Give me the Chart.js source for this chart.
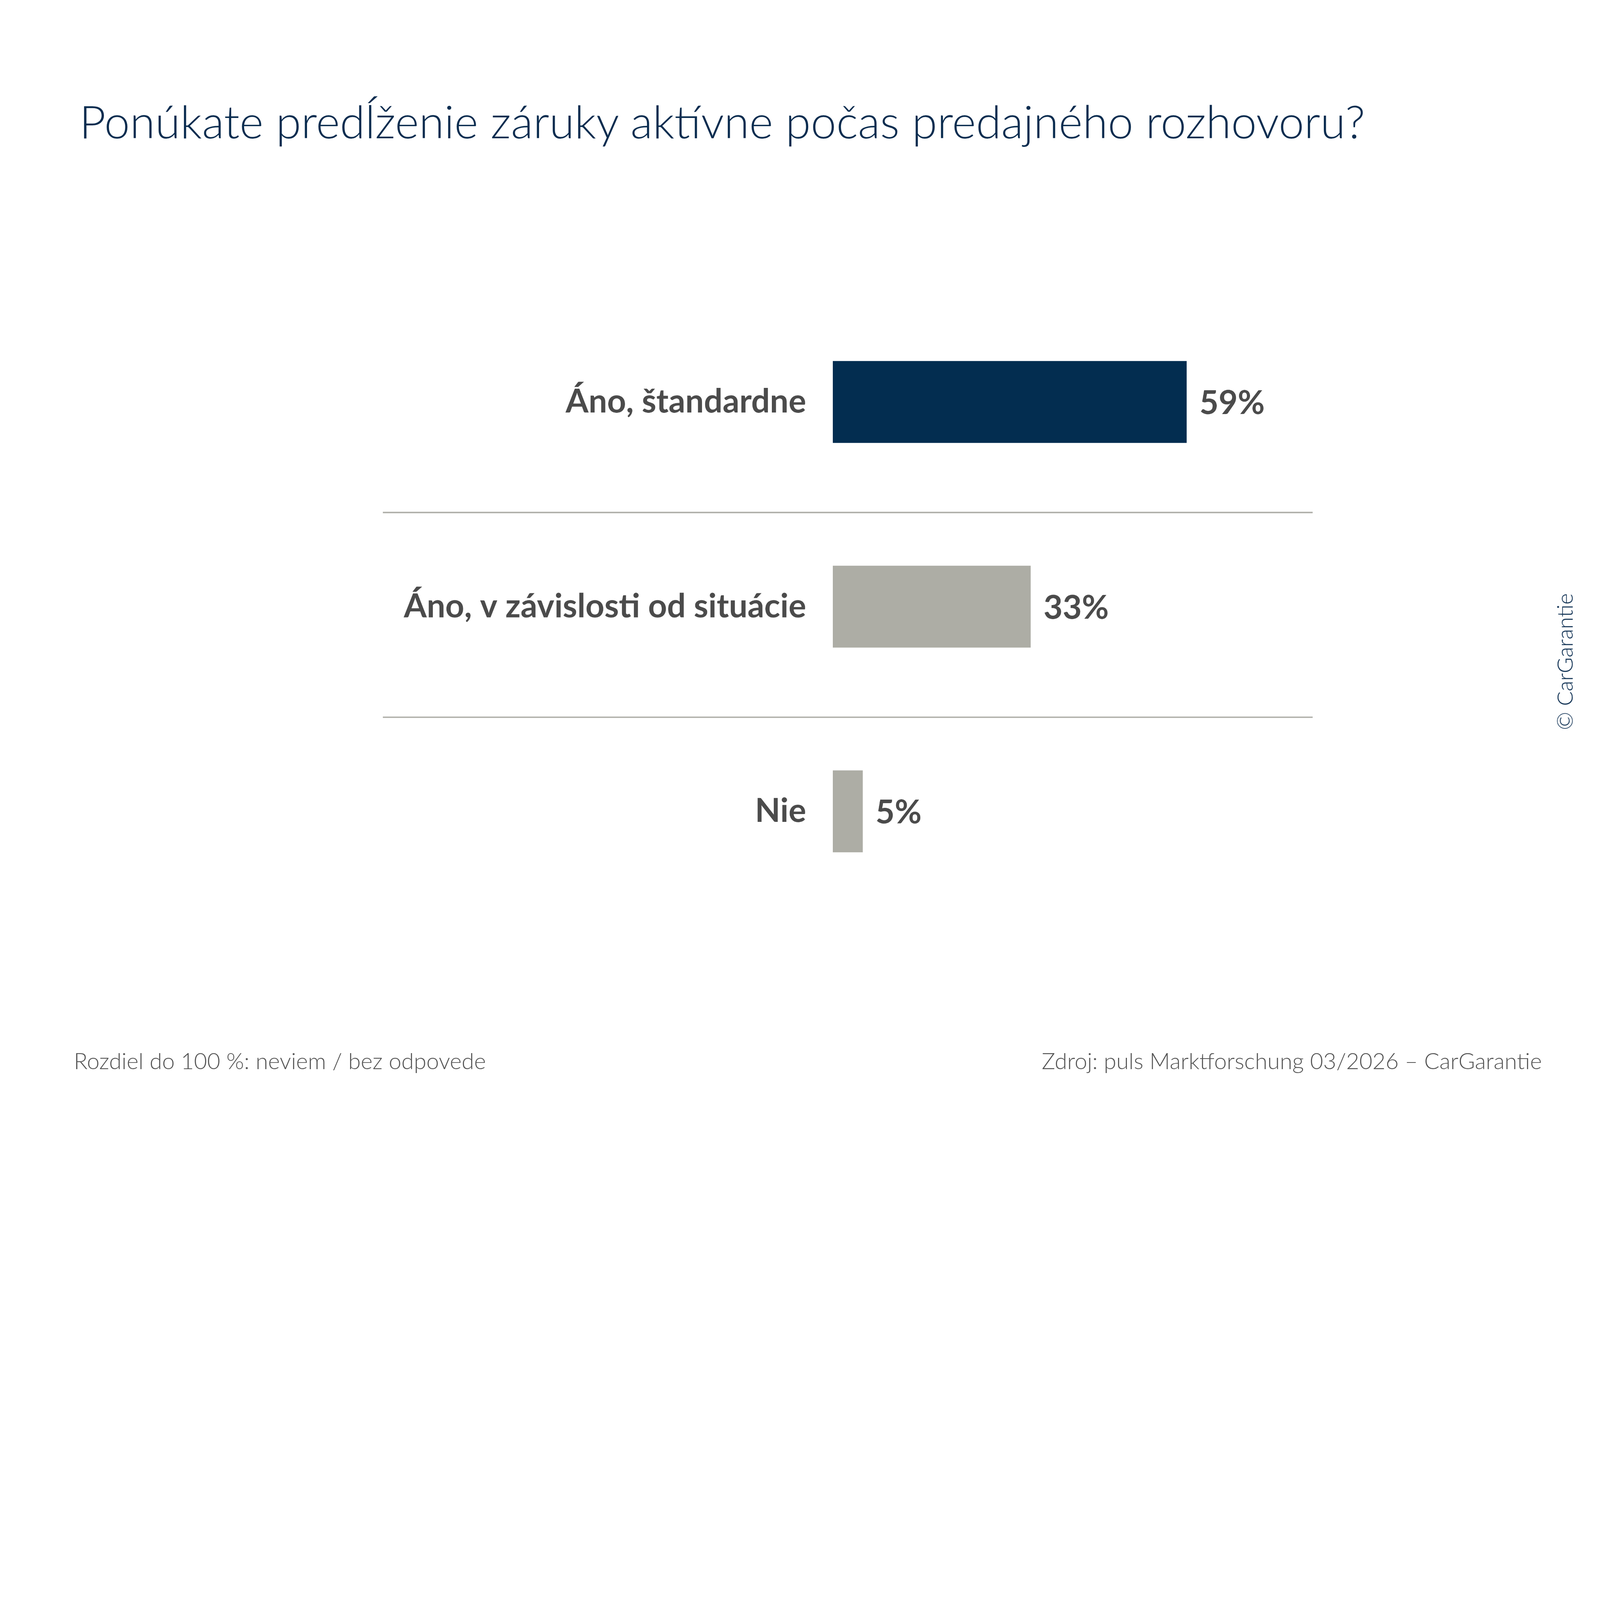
<!DOCTYPE html>
<html>
<head>
<meta charset="utf-8">
<script src="https://cdn.jsdelivr.net/npm/chart.js@4/dist/chart.umd.min.js"></script>
<style>
  html, body { margin: 0; padding: 0; background: #fff; overflow: hidden; }
  #stage { position: absolute; left: 0; top: 0; width: 6500px; height: 4500px; transform-origin: 0 0; background: #fff; }
  #chart { position: absolute; left: 0; top: 0; width: 6500px; height: 4500px; }
  .txt { position: absolute; line-height: 1; white-space: nowrap; font-family: Lato, "Open Sans", sans-serif; }
  #title { left: 322px; top: 397px; font-size: 186px; font-weight: 300; color: #0b2d50; }
  #note { left: 300px; top: 4263px; font-size: 92px; font-weight: 300; color: #555555; }
  #source { right: 236px; top: 4263px; font-size: 92px; font-weight: 300; color: #555555; }
  #credit { left: 6355px; top: 2688px; font-size: 88px; font-weight: 300; color: #0b2d50;
            transform: translate(-50%, -50%) rotate(-90deg); }
</style>
</head>
<body>
<div id="stage">
  <canvas id="chart" width="6500" height="4500"></canvas>
  <div id="title" class="txt">Ponúkate predĺženie záruky aktívne počas predajného rozhovoru?</div>
  <div id="note" class="txt">Rozdiel do 100 %: neviem / bez odpovede</div>
  <div id="source" class="txt">Zdroj: puls Marktforschung 03/2026 – CarGarantie</div>
  <div id="credit" class="txt">© CarGarantie</div>
</div>
<script>
// Data
const categories = ['Áno, štandardne', 'Áno, v závislosti od situácie', 'Nie'];
const shares = [59, 33, 5];
const barColors = ['#032d50', '#adada5', '#adada5'];

const textGray = '#4b4b4b';
const labelFont = { family: 'Lato, "Open Sans", sans-serif', size: 134, weight: 'bold' };

// separator lines between categories, spanning from/to these x values
const sepFrom = -75;
const sepTo = 80;

// fit the 6500x4500 layout into whatever window we get
const stage = document.getElementById('stage');
const fit = Math.min(window.innerWidth / 6500, window.innerHeight / 4500);
stage.style.transform = 'scale(' + fit + ')';

const separators = {
  id: 'separators',
  beforeDatasetsDraw(chart) {
    const { ctx, scales: { x, y } } = chart;
    ctx.save();
    ctx.strokeStyle = '#b3b3ad';
    ctx.lineWidth = 6;
    for (let i = 0; i < categories.length - 1; i++) {
      const py = Math.round(y.getPixelForValue(i + 0.54));
      ctx.beginPath();
      ctx.moveTo(x.getPixelForValue(sepFrom), py);
      ctx.lineTo(x.getPixelForValue(sepTo), py);
      ctx.stroke();
    }
    ctx.restore();
  }
};

const valueLabels = {
  id: 'valueLabels',
  afterDatasetsDraw(chart) {
    const { ctx } = chart;
    const meta = chart.getDatasetMeta(0);
    ctx.save();
    ctx.fillStyle = textGray;
    ctx.font = `${labelFont.weight} ${labelFont.size}px ${labelFont.family}`;
    ctx.textAlign = 'left';
    ctx.textBaseline = 'middle';
    meta.data.forEach((bar, i) => {
      ctx.fillText(shares[i] + '%', bar.x + 52, bar.y + 6);
    });
    ctx.restore();
  }
};

new Chart(document.getElementById('chart'), {
  type: 'bar',
  data: {
    labels: categories,
    datasets: [{
      data: shares,
      backgroundColor: barColors,
      borderWidth: 0,
      barPercentage: 0.4,
      categoryPercentage: 1
    }]
  },
  options: {
    indexAxis: 'y',
    responsive: false,
    devicePixelRatio: 1,
    animation: false,
    layout: { padding: { left: 0, top: 1217, right: 680, bottom: 788 } },
    plugins: { legend: { display: false }, tooltip: { enabled: false } },
    scales: {
      x: { display: false, min: 0, max: 100 },
      y: {
        afterFit(scale) { scale.width = 3383; },
        grid: { display: false },
        border: { display: false },
        ticks: { color: textGray, font: labelFont, padding: 100 }
      }
    }
  },
  plugins: [separators, valueLabels]
});
</script>
</body>
</html>
